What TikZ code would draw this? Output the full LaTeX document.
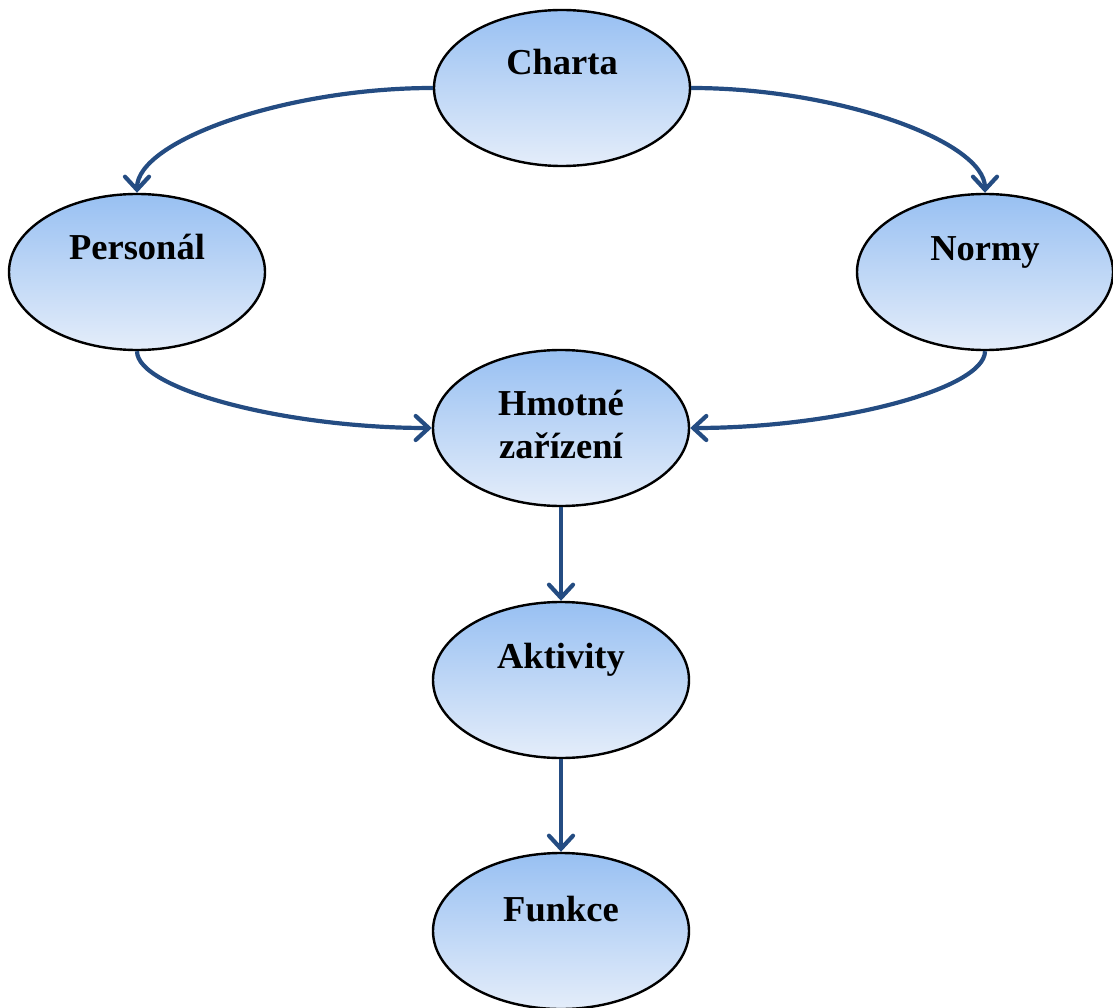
\documentclass[tikz,border=0pt]{standalone}
\usepackage{fontspec}
\setmainfont{Liberation Serif}
\usetikzlibrary{arrows.meta,shapes.geometric}
\definecolor{linkblue}{RGB}{36,76,130}
\definecolor{gradtop}{RGB}{152,192,242}
\definecolor{gradbot}{RGB}{228,237,250}
\tikzset{
  elli/.style={ellipse, draw=black, line width=2.4pt, minimum width=256pt, minimum height=156pt, inner sep=0pt,
    top color=gradtop, bottom color=gradbot},
  lbl/.style={font=\fontsize{36.5}{43}\selectfont\bfseries, align=center, inner sep=0pt},
  link/.style={draw=linkblue, line width=4.2pt, -{Straight Barb[length=13pt,width=24pt,line cap=round]}}
}
\begin{document}
\begin{tikzpicture}[x=1pt,y=-1pt]
\useasboundingbox (0,0) rectangle (1113,1008);
\node[elli] (charta) at (562,88) {};
\node[elli] (personal) at (137,272) {};
\node[elli] (normy) at (985,272) {};
\node[elli] (hmotne) at (561,428) {};
\node[elli] (aktivity) at (561,680) {};
\node[elli] (funkce) at (561,931) {};
\node[lbl, anchor=base] (chartat) at (562,75) {Charta};
\node[lbl, anchor=base] (personalt) at (137,259) {Personál};
\node[lbl, anchor=base] (normyt) at (985,261) {Normy};
\node[lbl, anchor=center] (hmotnet) at (561,424) {Hmotné\\zařízení};
\node[lbl, anchor=base] (aktivityt) at (561,668) {Aktivity};
\node[lbl, anchor=base] (funkcet) at (561,921) {Funkce};
\draw[link] (charta.west) .. controls (285,88) and (137,141) .. (personal.north);
\draw[link] (charta.east) .. controls (837,88) and (985,141) .. (normy.north);
\draw[link] (personal.south) .. controls (137,389) and (285,428) .. (hmotne.west);
\draw[link] (normy.south) .. controls (985,389) and (837,428) .. (hmotne.east);
\draw[link] (hmotne.south) -- (aktivity.north);
\draw[link] (aktivity.south) -- (funkce.north);
\end{tikzpicture}
\end{document}
